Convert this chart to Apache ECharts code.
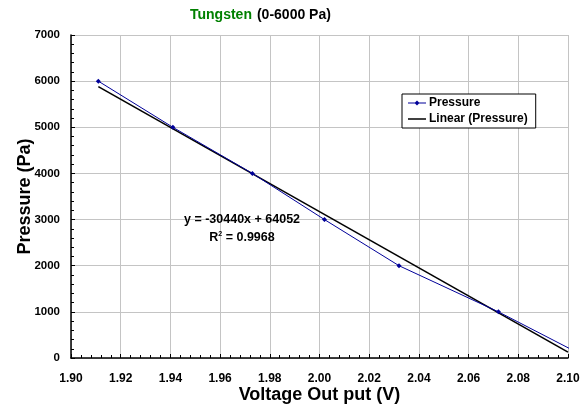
<!DOCTYPE html>
<html>
<head>
<meta charset="utf-8">
<script src="https://cdn.jsdelivr.net/npm/echarts@6/dist/echarts.min.js"></script>
<style>
  html, body { margin: 0; padding: 0; background: #fff; }
  #chart { width: 586px; height: 407px; }
</style>
</head>
<body>
<div id="chart"></div>
<script>
// measured points (voltage, pressure)
const voltage = [1.911, 1.941, 1.973, 2.002, 2.032, 2.072, 2.108]
const pressure = [6000, 5000, 4000, 3000, 2000, 1000, 0]
// linear trend line ends
const trendVoltage = [1.911, 2.10]
const trendPressure = [5881, 128]
const xTicks = [1.90, 1.92, 1.94, 1.96, 1.98, 2.00, 2.02, 2.04, 2.06, 2.08, 2.10]
const yTicks = [0, 1000, 2000, 3000, 4000, 5000, 6000, 7000]
const equation = 'y = -30440x + 64052'
const rSquared = 'R{sup|2} = 0.9968'

const font = 'Arial, Liberation Sans, sans-serif'
const chart = echarts.init(document.getElementById('chart'))

const option = {
  animation: false,
  backgroundColor: '#fff',
  textStyle: { fontFamily: font, fontWeight: 'bold' },
  title: {
    text: '{g|Tungsten} {b|(0-6000 Pa)}',
    left: 185,
    top: 1,
    textStyle: {
      rich: {
        g: { color: '#008000', fontSize: 14, fontWeight: 'bold', fontFamily: font },
        b: { color: '#000', fontSize: 14, fontWeight: 'bold', fontFamily: font }
      }
    }
  },
  grid: { left: 71, right: 18, top: 35, bottom: 49, containLabel: false, outerBoundsMode: 'none' },
  legend: {
    left: 402,
    top: 94,
    orient: 'vertical',
    backgroundColor: '#fff',
    borderColor: '#000',
    borderWidth: 1,
    borderRadius: 0,
    padding: [3, 8, 3, 6],
    itemGap: 4,
    itemWidth: 18,
    itemHeight: 10,
    textStyle: { fontSize: 12, fontWeight: 'bold', color: '#000', fontFamily: font, padding: [0, 0, 0, -2] },
    data: [
      { name: 'Pressure', icon: 'path://M0,4.5L7,4.5L9,2.5L11,4.5L18,4.5L18,5.5L11,5.5L9,7.5L7,5.5L0,5.5Z' },
      { name: 'Linear (Pressure)', icon: 'path://M0,4.3L18,4.3L18,5.8L0,5.8Z' }
    ]
  },
  xAxis: {
    type: 'value',
    min: 1.90,
    max: 2.10,
    interval: 0.02,
    name: 'Voltage Out put (V)',
    nameLocation: 'middle',
    nameGap: 28,
    nameMoveOverlap: false,
    nameTextStyle: { fontSize: 18, fontWeight: 'bold', color: '#000', fontFamily: font },
    axisLine: { show: true, onZero: false, lineStyle: { color: '#000', width: 1.5 } },
    axisTick: { show: true, inside: true, length: 4, lineStyle: { color: '#000' } },
    minorTick: { show: true, splitNumber: 5, length: 3, lineStyle: { color: '#000' } },
    axisLabel: {
      margin: 15,
      fontSize: 12,
      fontWeight: 'bold',
      color: '#000',
      fontFamily: font,
      formatter: v => {
        const t = xTicks.find(x => Math.abs(x - v) < 1e-6)
        return t !== undefined ? t.toFixed(2) : ''
      }
    },
    splitLine: { show: true, lineStyle: { color: '#c4c4c4', width: 1 } }
  },
  yAxis: {
    type: 'value',
    min: 0,
    max: 7000,
    interval: 1000,
    name: 'Pressure (Pa)',
    nameLocation: 'middle',
    nameGap: 37,
    nameMoveOverlap: false,
    nameTextStyle: { fontSize: 18, fontWeight: 'bold', color: '#000', fontFamily: font },
    axisLine: { show: true, lineStyle: { color: '#000', width: 1.5 } },
    axisTick: { show: true, inside: true, length: 4, lineStyle: { color: '#000' } },
    minorTick: { show: true, splitNumber: 5, length: 3, lineStyle: { color: '#000' } },
    axisLabel: {
      margin: 11,
      fontSize: 11.5,
      fontWeight: 'bold',
      color: '#000',
      fontFamily: font,
      formatter: v => (yTicks.indexOf(v) >= 0 ? String(v) : '')
    },
    splitLine: { show: true, lineStyle: { color: '#c4c4c4', width: 1 } }
  },
  series: [
    {
      name: 'Pressure',
      type: 'line',
      data: voltage.map((v, i) => [v, pressure[i]]),
      clip: true,
      symbol: 'diamond',
      symbolSize: 5,
      showAllSymbol: true,
      z: 3,
      itemStyle: { color: '#000099' },
      lineStyle: { color: '#000099', width: 1 }
    },
    {
      name: 'Linear (Pressure)',
      type: 'line',
      data: trendVoltage.map((v, i) => [v, trendPressure[i]]),
      clip: true,
      symbol: 'none',
      z: 2,
      itemStyle: { color: '#000' },
      lineStyle: { color: '#000', width: 1.6 }
    }
  ],
  graphic: [
    {
      type: 'text',
      x: 242,
      y: 220,
      z: 10,
      style: {
        text: equation,
        align: 'center',
        verticalAlign: 'middle',
        fontSize: 12.5,
        fontWeight: 'bold',
        fontFamily: font,
        fill: '#000'
      }
    },
    {
      type: 'text',
      x: 242,
      y: 238,
      z: 10,
      style: {
        text: rSquared,
        align: 'center',
        verticalAlign: 'middle',
        fontSize: 12.5,
        fontWeight: 'bold',
        fontFamily: font,
        fill: '#000',
        rich: {
          sup: { fontSize: 7, fontWeight: 'bold', fontFamily: font, padding: [0, 0, 7, 0] }
        }
      }
    }
  ]
}

chart.setOption(option)
</script>
</body>
</html>
